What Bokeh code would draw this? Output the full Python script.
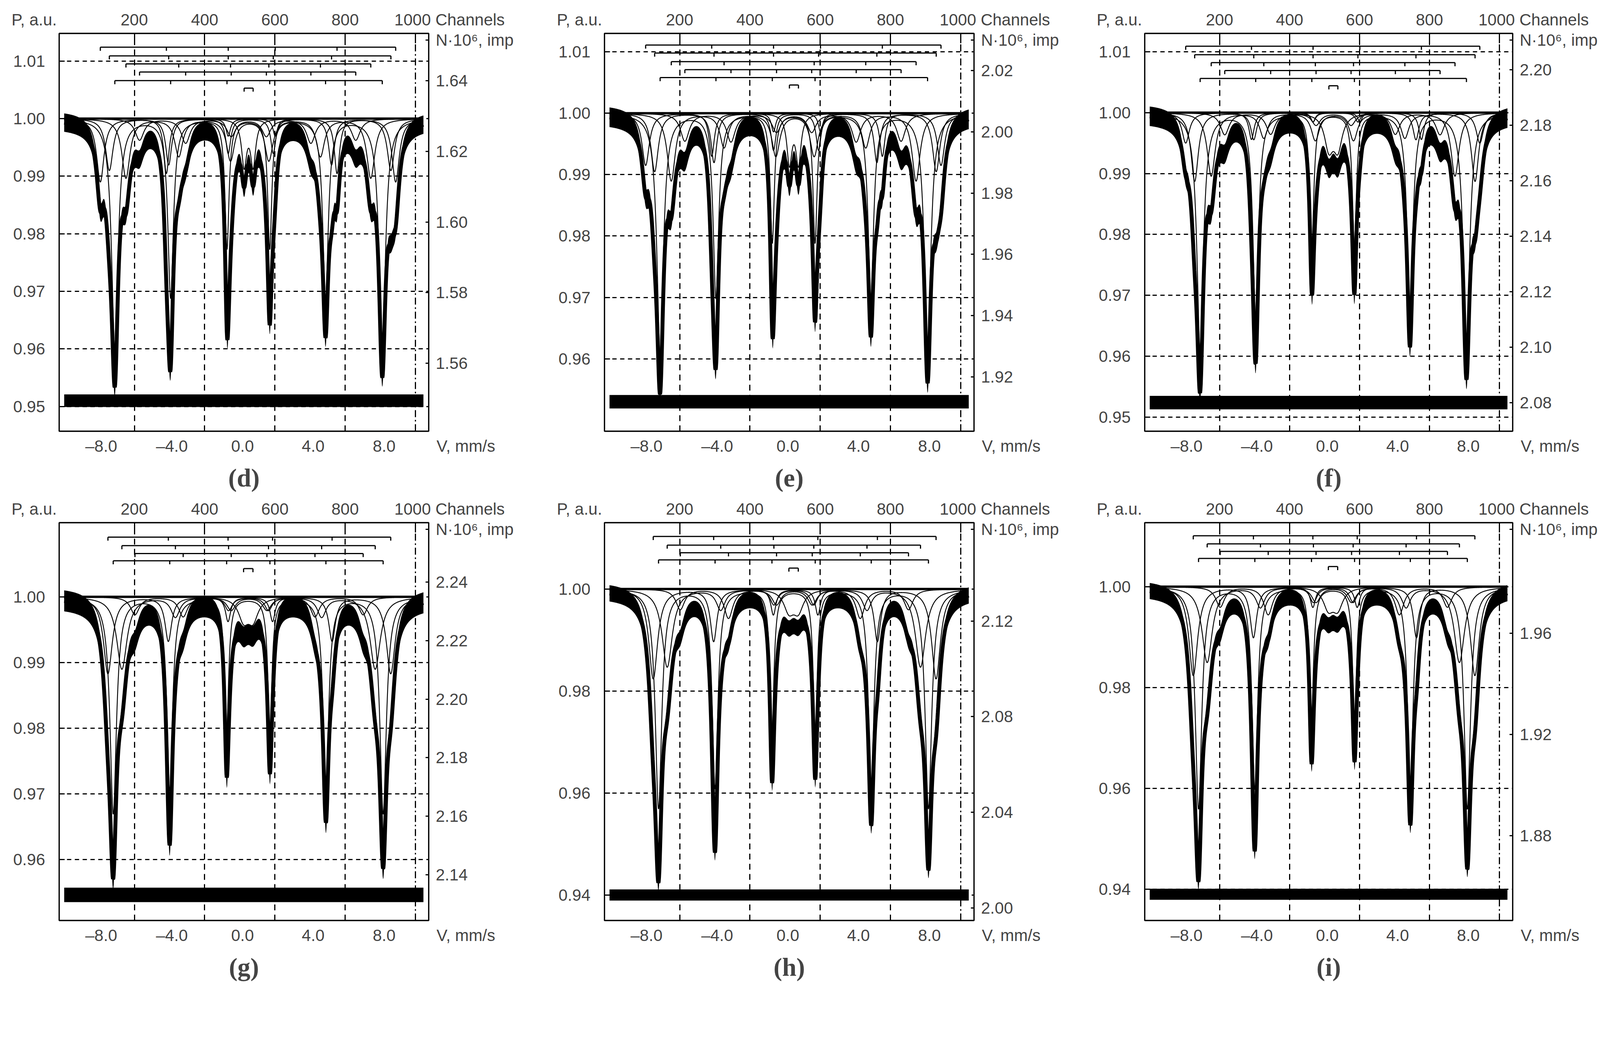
import numpy as np
from bokeh.plotting import figure
from bokeh.models import Range1d, LinearAxis, FixedTicker, PrintfTickFormatter, Grid
from bokeh.layouts import column, row
from bokeh.embed import file_html
from bokeh.resources import INLINE

# velocity window and channel calibration
V_RANGE = (-10.38, 10.54)
CH_REF, V_AT_CH_REF, V_PER_CH = 200, -6.12, 0.01988
N_CHANNELS = 1024

V_TICKS = [-8, -4, 0, 4, 8]
V_LABELS = ["\u20138.0", "\u20134.0", "0.0", "4.0", "8.0"]
CH_TICKS = [200, 400, 600, 800, 1000]

# line positions of the subspectra (stick diagrams), mm/s
top_sextets = [
    [-8.05, -4.31, -0.81, 1.85, 5.35, 8.67],
    [-7.54, -4.18, -0.81, 1.74, 5.04, 8.40],
    [-6.60, -3.61, -0.68, 1.49, 4.41, 7.26],
    [-5.83, -3.22, -0.64, 1.35, 3.87, 6.41],
    [-7.23, -4.07, -0.88, 1.54, 4.70, 7.91],
]
top_widths = [[0.50, 0.36, 0.30], [0.50, 0.40, 0.34], [0.55, 0.55, 0.55],
              [0.60, 0.60, 0.60], [0.44, 0.38, 0.28]]
top_doublet = [0.09, 0.60]

bottom_sextets = [
    [-7.62, -4.20, -0.82, 1.70, 5.07, 8.39],
    [-6.83, -3.80, -0.79, 1.47, 4.48, 7.51],
    [-6.09, -3.36, -0.64, 1.38, 4.10, 6.83],
    [-7.32, -4.12, -0.90, 1.55, 4.72, 7.96],
]
bottom_widths = [[0.60, 0.45, 0.35], [0.70, 0.60, 0.50], [0.60, 0.60, 0.60],
                 [0.44, 0.38, 0.28]]
bottom_doublet = [0.06, 0.59]

# line depths [outer, middle, inner] of each subspectrum, per sample
d_depths = [[0.011, 0.0095, 0.003], [0.009, 0.008, 0.006], [0.0103, 0.0065, 0.0072],
            [0.0037, 0.0042, 0.003], [0.040, 0.031, 0.0225]]
e_depths = [[0.0085, 0.007, 0.003], [0.0095, 0.008, 0.006], [0.011, 0.0055, 0.0069],
            [0.0045, 0.0046, 0.003], [0.039, 0.030, 0.021]]
f_depths = [[0.005, 0.0044, 0.0015], [0.0113, 0.0044, 0.0015], [0.0104, 0.0041, 0.0045],
            [0.0036, 0.0035, 0.002], [0.039, 0.034, 0.0218]]
g_depths = [[0.0117, 0.0067, 0.0037], [0.011, 0.003, 0.002], [0.0027, 0.003, 0.002],
            [0.033, 0.0294, 0.0204]]
h_depths = [[0.0176, 0.0102, 0.005], [0.0153, 0.004, 0.003], [0.004, 0.0057, 0.003],
            [0.043, 0.039, 0.028]]
i_depths = [[0.0176, 0.0100, 0.004], [0.0150, 0.004, 0.003], [0.004, 0.0055, 0.003],
            [0.044, 0.040, 0.026]]

# doublet [depth, width]
d_doublet = [0.008, 0.35]
e_doublet = [0.008, 0.35]
f_doublet = [0.0055, 0.60]
g_doublet = [0.0033, 0.70]
h_doublet = [0.0040, 0.70]
i_doublet = [0.0040, 0.70]

# stick diagram levels (P) and doublet mark level
d_bars, d_dbar = [1.0124, 1.0109, 1.0095, 1.0081, 1.0066], 1.0053
e_bars, e_dbar = [1.0111, 1.0098, 1.0084, 1.0071, 1.0058], 1.0046
f_bars, f_dbar = [1.0109, 1.0095, 1.0082, 1.0069, 1.0056], 1.0044
g_bars, g_dbar = [1.0091, 1.0078, 1.0066, 1.0055], 1.0043
h_bars, h_dbar = [1.0103, 1.0086, 1.0071, 1.0057], 1.0041
i_bars, i_dbar = [1.0101, 1.0085, 1.0070, 1.0056], 1.0040

# residual level
residual_level = {"d": 0.951, "e": 0.953, "f": 0.9524, "g": 0.9546, "h": 0.940, "i": 0.939}

# P axis range and ticks
p_range = {"d": (0.9457, 1.0148), "e": (0.9482, 1.0130), "f": (0.9477, 1.0130),
           "g": (0.9507, 1.0113), "h": (0.9350, 1.0130), "i": (0.9338, 1.0127)}
p_ticks = {
    "d": [0.95, 0.96, 0.97, 0.98, 0.99, 1.00, 1.01],
    "e": [0.96, 0.97, 0.98, 0.99, 1.00, 1.01],
    "f": [0.95, 0.96, 0.97, 0.98, 0.99, 1.00, 1.01],
    "g": [0.96, 0.97, 0.98, 0.99, 1.00],
    "h": [0.94, 0.96, 0.98, 1.00],
    "i": [0.94, 0.96, 0.98, 1.00],
}
# counts axis: N at P = 1 and slope dN/dP, ticks
n_at_1 = {"d": 1.6293, "e": 2.0061, "f": 2.1845, "g": 2.235, "h": 2.1334, "i": 1.9785}
n_slope = {"d": 1.631, "e": 2.006, "f": 2.194, "g": 2.245, "h": 2.1325, "i": 1.996}
n_ticks = {
    "d": [1.56, 1.58, 1.60, 1.62, 1.64],
    "e": [1.92, 1.94, 1.96, 1.98, 2.00, 2.02],
    "f": [2.08, 2.10, 2.12, 2.14, 2.16, 2.18, 2.20],
    "g": [2.14, 2.16, 2.18, 2.20, 2.22, 2.24],
    "h": [2.00, 2.04, 2.08, 2.12],
    "i": [1.88, 1.92, 1.96],
}

FONT = "Liberation Sans"
FS = "42px"
SP = "\u00a0"
COL_W = [1393, 1383, 1316]
COL_LEFT = [151, 154, 154]
ROW_H = [1269, 1256]
ROW_TOP = [85, 68]
FRAME_W, FRAME_H = 946, 1018

# texts that sit beside the outermost tick labels
P_LABEL = "P, a.u." + SP * 14 + "200" + SP * 24
CH_LABEL = SP * 15 + "1000" + SP + "Channels"
V_LABEL = SP * 22 + "8.0" + SP * 9 + "V, mm/s"
N_LABEL = "N\u00b710\u2076, imp"


def to_channel(v):
    return CH_REF + (v - V_AT_CH_REF) / V_PER_CH


def absorption(v, positions, depths, widths):
    depth6 = depths + depths[::-1]
    width6 = widths + widths[::-1]
    out = np.zeros_like(v)
    for pos, dep, wid in zip(positions, depth6, width6):
        out += dep / (1.0 + (2.0 * (v - pos) / wid) ** 2)
    return out


def doublet_absorption(v, positions, par):
    dep, wid = par
    out = np.zeros_like(v)
    for pos in positions:
        out += dep / (1.0 + (2.0 * (v - pos) / wid) ** 2)
    return out


def make_panel(key, col, rw, sextets, widths, depths, dbl_pos, dbl_par, bars, dbar):
    lo, hi = p_range[key]
    p = figure(width=COL_W[col], height=ROW_H[rw],
               x_range=Range1d(*V_RANGE), y_range=Range1d(lo, hi),
               output_backend="svg", toolbar_location=None,
               min_border_left=COL_LEFT[col],
               min_border_right=COL_W[col] - COL_LEFT[col] - FRAME_W,
               min_border_top=ROW_TOP[rw],
               min_border_bottom=ROW_H[rw] - ROW_TOP[rw] - FRAME_H)
    p.outline_line_color = "black"
    p.outline_line_width = 3.3
    p.background_fill_color = "white"
    p.border_fill_color = "white"

    # bottom axis: velocity, with the sample letter as its title
    xa = p.xaxis[0]
    xa.ticker = FixedTicker(ticks=V_TICKS)
    labels = dict(zip(V_TICKS, V_LABELS))
    labels[8] = V_LABEL
    xa.major_label_overrides = {float(t): s for t, s in labels.items()}
    xa.axis_line_color = None
    xa.major_tick_line_color = None
    xa.minor_tick_line_color = None
    xa.major_label_standoff = 8
    xa.major_label_text_font = FONT
    xa.major_label_text_font_size = FS
    xa.axis_label = "(%s)" % key
    xa.axis_label_text_font = "Liberation Serif"
    xa.axis_label_text_font_style = "bold"
    xa.axis_label_text_font_size = "66px"
    xa.axis_label_standoff = 18
    p.xgrid.visible = False

    # left axis: P
    ya = p.yaxis[0]
    ya.ticker = FixedTicker(ticks=p_ticks[key])
    ya.formatter = PrintfTickFormatter(format="%.2f")
    ya.axis_line_color = None
    ya.major_tick_in = 14
    ya.major_tick_out = 0
    ya.major_tick_line_width = 3
    ya.minor_tick_line_color = None
    ya.major_label_standoff = 36
    ya.major_label_text_font = FONT
    ya.major_label_text_font_size = FS
    p.ygrid.ticker = FixedTicker(ticks=p_ticks[key])
    p.ygrid.grid_line_color = "black"
    p.ygrid.grid_line_width = 3
    p.ygrid.grid_line_dash = "11 9"

    # top axis: channels
    p.extra_x_ranges = {"ch": Range1d(to_channel(V_RANGE[0]), to_channel(V_RANGE[1]))}
    top = LinearAxis(x_range_name="ch", ticker=FixedTicker(ticks=CH_TICKS),
                     axis_line_color=None, major_tick_in=25, major_tick_out=0,
                     major_tick_line_width=3, minor_tick_line_color=None,
                     major_label_standoff=12, major_label_text_font=FONT,
                     major_label_text_font_size=FS,
                     major_label_overrides={200.0: P_LABEL, 1000.0: CH_LABEL})
    p.add_layout(top, "above")
    p.add_layout(Grid(dimension=0, x_range_name="ch", ticker=FixedTicker(ticks=CH_TICKS[:-1]),
                      grid_line_color="black", grid_line_width=3,
                      grid_line_dash="15 11"))
    p.add_layout(Grid(dimension=0, x_range_name="ch", ticker=FixedTicker(ticks=CH_TICKS[-1:]),
                      grid_line_color="black", grid_line_width=3,
                      grid_line_dash="18 7 4 7"))

    # right axis: counts, with its title at the top
    n1, k = n_at_1[key], n_slope[key]
    p.extra_y_ranges = {"n": Range1d(n1 + k * (lo - 1.0), n1 + k * (hi - 1.0))}
    p_title = hi - 17.0 / FRAME_H * (hi - lo)
    n_title = round(n1 + k * (p_title - 1.0), 5)
    right = LinearAxis(y_range_name="n", ticker=FixedTicker(ticks=n_ticks[key] + [n_title]),
                       formatter=PrintfTickFormatter(format="%.2f"),
                       major_label_overrides={n_title: N_LABEL},
                       axis_line_color=None, major_tick_in=8, major_tick_out=0,
                       major_tick_line_width=3, minor_tick_line_color=None,
                       major_label_standoff=18, major_label_text_font=FONT,
                       major_label_text_font_size=FS)
    p.add_layout(right, "right")

    # spectrum model on the channel grid
    ch = np.arange(N_CHANNELS)
    v = V_AT_CH_REF + (ch - CH_REF) * V_PER_CH
    comps = [absorption(v, pos, dep, wid) for pos, dep, wid in zip(sextets, depths, widths)]
    comps.append(doublet_absorption(v, dbl_pos, dbl_par))
    env = 1.0 - np.sum(comps, axis=0)

    # experimental points (drawn as a band round the fit)
    p.varea(x=v, y1=env - 0.0016, y2=env + 0.0016, fill_color="black")
    p.line(v, env, line_color="black", line_width=10)

    # subspectra
    for c in comps:
        p.line(v, 1.0 - c, line_color="black", line_width=2.3)
    p.line([v[0], v[-1]], [1.0, 1.0], line_color="black", line_width=6)

    # residual
    r = residual_level[key]
    p.varea(x=[v[0], v[-1]], y1=[r - 0.0011, r - 0.0011], y2=[r + 0.0011, r + 0.0011],
            fill_color="black")

    # stick diagrams
    tick = 0.009 * (hi - lo)
    for pos, yb in zip(sextets, bars):
        p.segment(x0=[min(pos)], y0=[yb], x1=[max(pos)], y1=[yb],
                  line_color="black", line_width=3)
        p.segment(x0=pos, y0=[yb] * 6, x1=pos, y1=[yb - tick] * 6,
                  line_color="black", line_width=3)
    p.segment(x0=[min(dbl_pos)], y0=[dbar], x1=[max(dbl_pos)], y1=[dbar],
              line_color="black", line_width=3)
    p.segment(x0=dbl_pos, y0=[dbar] * 2, x1=dbl_pos, y1=[dbar - tick] * 2,
              line_color="black", line_width=3)
    return p


pd_ = make_panel("d", 0, 0, top_sextets, top_widths, d_depths, top_doublet, d_doublet, d_bars, d_dbar)
pe_ = make_panel("e", 1, 0, top_sextets, top_widths, e_depths, top_doublet, e_doublet, e_bars, e_dbar)
pf_ = make_panel("f", 2, 0, top_sextets, top_widths, f_depths, top_doublet, f_doublet, f_bars, f_dbar)
pg_ = make_panel("g", 0, 1, bottom_sextets, bottom_widths, g_depths, bottom_doublet, g_doublet, g_bars, g_dbar)
ph_ = make_panel("h", 1, 1, bottom_sextets, bottom_widths, h_depths, bottom_doublet, h_doublet, h_bars, h_dbar)
pi_ = make_panel("i", 2, 1, bottom_sextets, bottom_widths, i_depths, bottom_doublet, i_doublet, i_bars, i_dbar)

lay = column(row(pd_, pe_, pf_), row(pg_, ph_, pi_))

with open("out.html", "w") as fh:
    fh.write(file_html(lay, INLINE))
